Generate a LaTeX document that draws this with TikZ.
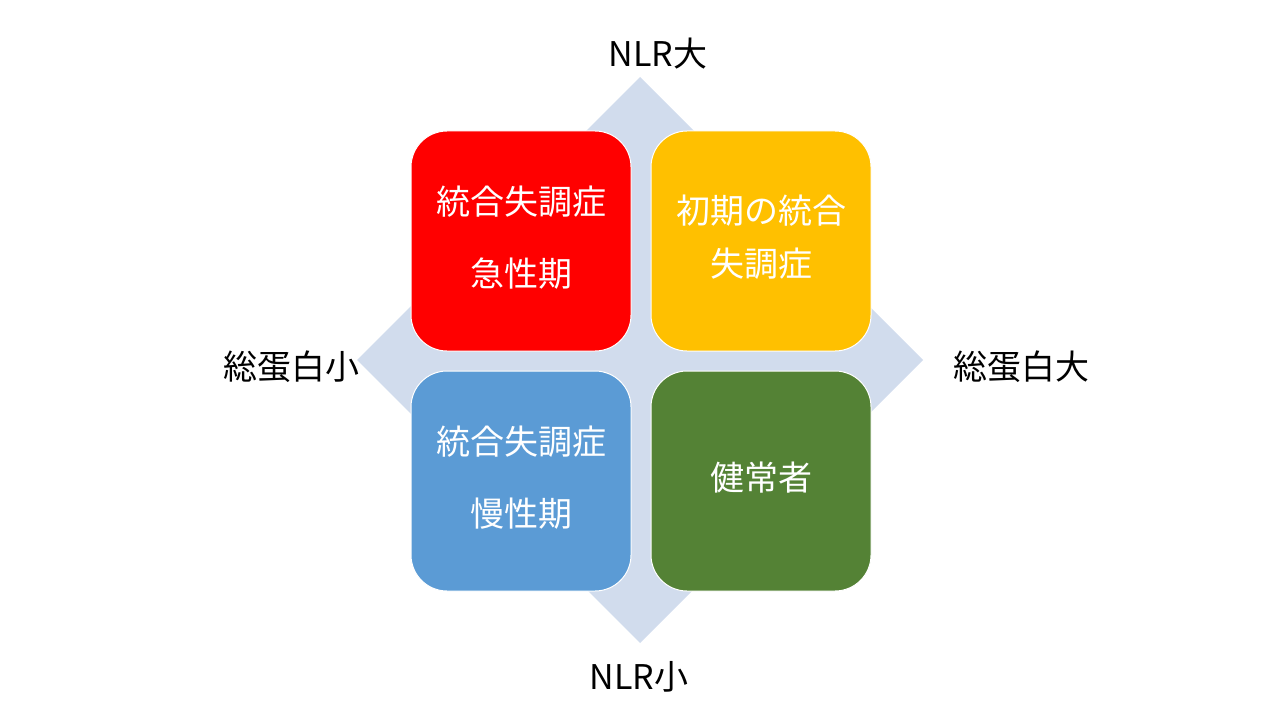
\documentclass[tikz,border=0pt]{standalone}
\usepackage{fontspec}
\setmainfont{Noto Sans CJK JP}
\usepackage{tikz}
\usetikzlibrary{positioning}

\definecolor{acutered}{HTML}{FF0000}
\definecolor{earlyorange}{HTML}{FFC000}
\definecolor{chronicblue}{HTML}{5B9BD5}
\definecolor{healthygreen}{HTML}{548235}
\definecolor{axisbg}{HTML}{D1DCED}

\tikzset{
  stagebox/.style={draw=white, line width=0.75pt, rounded corners=27pt,
    minimum width=165pt, minimum height=165pt, inner sep=0pt, text depth=7.5pt,
    align=center, text=white, font=\fontsize{25.5pt}{39.75pt}\selectfont},
  axislabel/.style={font=\fontsize{25.5pt}{30pt}\selectfont, text=black, inner sep=0pt}
}

\begin{document}
\begin{tikzpicture}[x=0.75pt, y=-0.75pt]
 \useasboundingbox (0,0) rectangle (1280,720);
 % background diamond
 \fill[axisbg] (640,77) -- (923,360) -- (640,643) -- (357,360) -- cycle;

 \node[stagebox, fill=acutered] (acute) at (521,241) {統合失調症\\[14.25pt]急性期};
 \node[stagebox, fill=earlyorange, right=14.25pt of acute] (early) {初期の統合\\失調症};
 \node[stagebox, fill=chronicblue, below=14.25pt of acute] (chronic) {統合失調症\\[14.25pt]慢性期};
 \node[stagebox, fill=healthygreen, right=14.25pt of chronic] (healthy) {健常者};

 \node[axislabel] (nlrhigh) at (658,54) {NLR大};
 \node[axislabel] (nlrlow) at (639,677) {NLR小};
 \node[axislabel] (tplow) at (291,367) {総蛋白小};
 \node[axislabel] (tphigh) at (1021,367) {総蛋白大};
\end{tikzpicture}
\end{document}
